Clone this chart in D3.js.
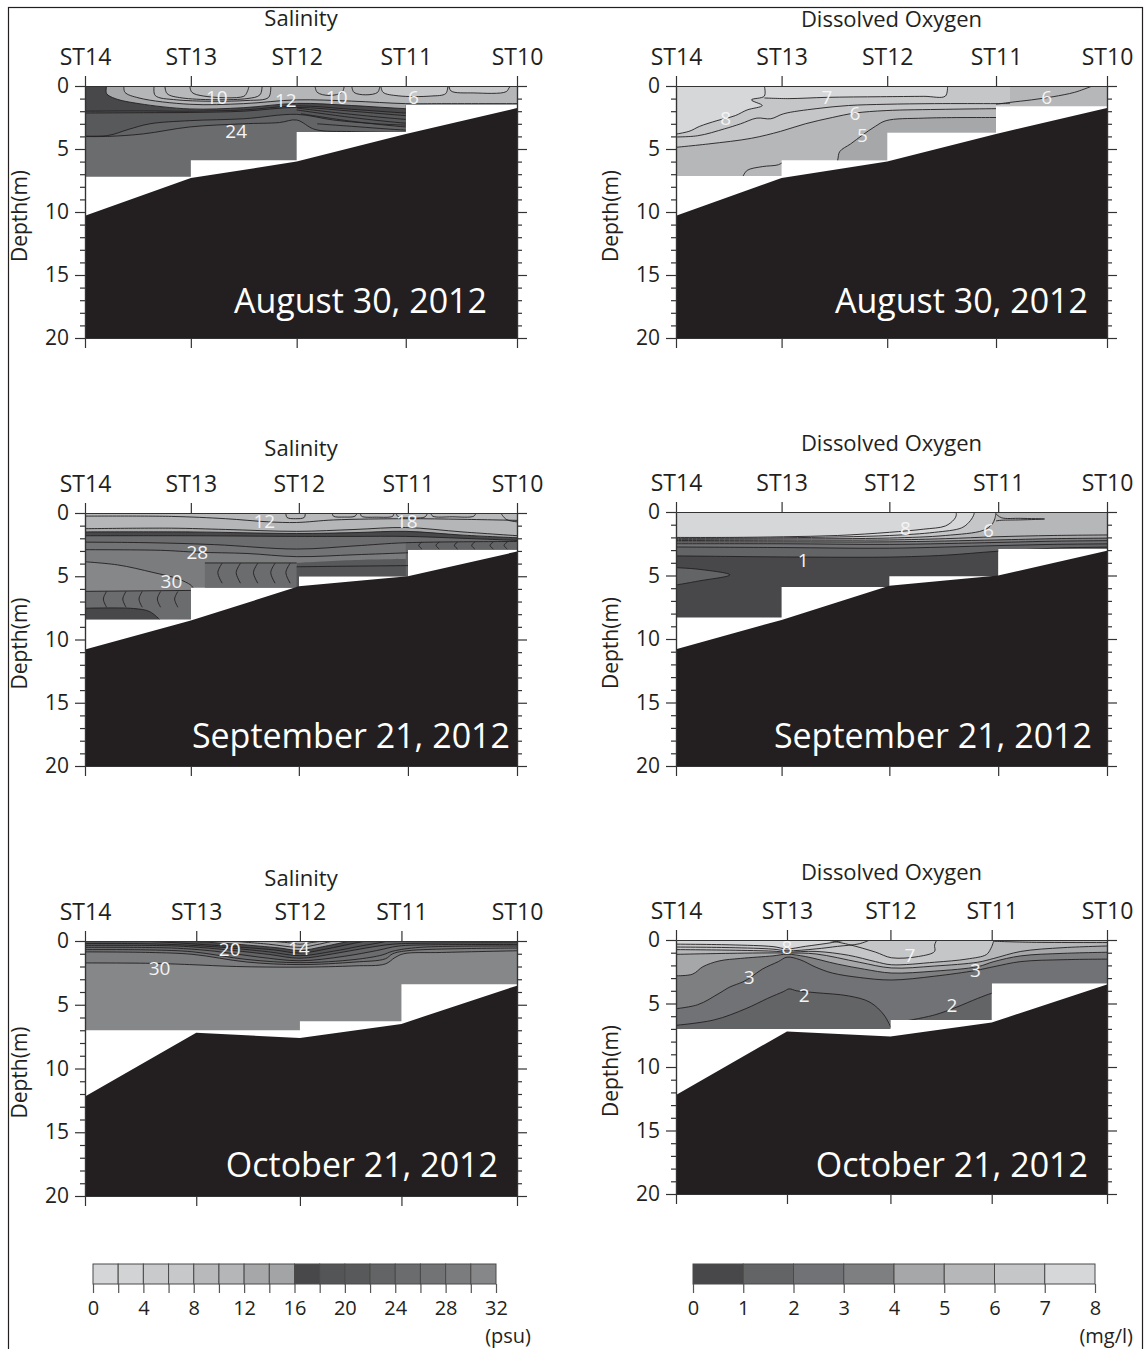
<!DOCTYPE html>
<html>
<head>
<meta charset="utf-8">
<script src="https://cdn.jsdelivr.net/npm/d3@7"></script>
<style>
  body { margin: 0; background: #fff; }
  svg { display: block; }
  text { font-family: "Open Sans", sans-serif; fill: #231f20; }
  .axis path, .axis line { stroke: #333; stroke-width: 1.2; }
  .st-axis text { font-size: 23px; }
  .depth-axis text { font-size: 21px; }
  .cb-axis text { font-size: 20px; }
  .cb-axis path, .cb-axis line { stroke: #555; stroke-width: 1.2; }
</style>
</head>
<body>
<svg id="fig" width="1146" height="1349"></svg>
<script>
// ---- stations and bathymetry ----
const stationNames = ["ST14", "ST13", "ST12", "ST11", "ST10"];
const distAug = [0, 0.98, 1.96, 2.97, 4.0];
const distSep = [0, 0.98, 1.98, 2.99, 4.0];
const distOct = [0, 1.03, 1.99, 2.93, 4.0];
const bottomAug = [10.3, 7.3, 6.0, 3.8, 1.75];
const bottomSep = [10.8, 8.5, 5.8, 5.0, 3.05];
const bottomOct = [12.2, 7.2, 7.6, 6.5, 3.5];

// deepest gridded depth between neighbouring stations
const salAugCast = [7.2, 5.9, 3.65, 1.5];
const doAugCast = [7.15, 5.9, 3.7, 1.6];
const salSepCast = [8.4, 5.9, 5.0, 2.9];
const doSepCast = [8.3, 5.9, 5.05, 2.9];
const salOctCast = [7.0, 7.0, 6.3, 3.4];
const doOctCast = [7.0, 7.0, 6.3, 3.4];

// ---- colour scales ----
const salBreaks = d3.range(2, 32, 2);
const salColors = ["#d5d6d8", "#d2d3d5", "#c9cacc", "#c7c8ca", "#b8b9bb", "#b5b6b8", "#a6a7a9", "#a3a4a6",
                   "#48484a", "#545557", "#58595b", "#636466", "#6b6c6e", "#727375", "#7b7c7e", "#868789"];
const doBreaks = d3.range(1, 8);
const doColors = ["#48484a", "#636466", "#717275", "#7e7f81", "#a6a7a9", "#b6b7b9", "#c5c6c8", "#d6d7d9"];
const salTickValues = d3.range(0, 33, 2);
const doTickValues = d3.range(0, 9);
const depthMajor = [0, 5, 10, 15, 20];
const depthMinor = d3.range(0, 21).filter(d => d % 5 !== 0);

// ---- Salinity, August 30 (isolines: [distance, depth]) ----
const salAugIso = {
  L3: [[-0.1,4.0],[0.21,4.0],[0.54,3.8],[0.97,3.25],[1.47,3.0],[1.8,2.9],[1.96,2.7],[2.13,3.45],[2.47,3.62],[3.1,3.7]],
  L2: [[-0.1,3.95],[0.21,3.93],[0.4,3.45],[0.6,3.0],[0.97,2.75],[1.47,2.6],[1.96,2.25],[2.3,2.7],[2.7,3.0],[3.1,3.15]],
  L1: [[-0.1,2.15],[0.54,2.12],[0.97,2.1],[1.47,2.0],[1.96,1.7],[2.47,2.0],[2.97,2.35],[3.1,2.4]],
  L0: [[-0.1,2.0],[0.54,1.98],[0.97,2.0],[1.47,1.9],[1.96,1.58],[2.47,1.85],[2.97,2.15],[3.1,2.2]],
  sA: [[0.2,0],[0.2,0.6],[0.28,1.0],[0.5,1.4],[0.97,1.82],[1.47,1.72],[1.96,1.38],[2.47,1.55],[2.97,1.8],[3.2,1.85],[4.1,1.85]],
  sB: [[0.36,0],[0.37,0.5],[0.5,0.95],[0.97,1.45],[1.47,1.4],[1.96,1.1],[2.47,1.2],[2.97,1.4],[3.3,1.4],[4.1,1.4]],
  m3: [[1.96,1.75],[2.47,2.25],[2.97,2.65],[3.1,2.7]],
  m4: [[1.96,1.9],[2.47,2.5],[2.97,2.95],[3.1,3.0]],
  m5: [[2.0,2.2],[2.47,2.8],[2.97,3.25],[3.1,3.3]],
  m6: [[2.15,3.0],[2.47,3.2],[2.97,3.5],[3.1,3.52]],
  u1: [[0.64,0],[0.65,0.75],[0.85,1.1],[1.5,1.15],[1.7,0.9],[1.72,0]],
  u2: [[0.74,0],[0.76,0.6],[0.9,0.95],[1.5,1.0],[1.62,0.7],[1.64,0]],
  u3: [[0.97,0],[0.99,0.5],[1.1,0.8],[1.47,0.82],[1.5,0.5],[1.52,0]],
  u4: [[2.13,0],[2.15,0.5],[2.26,0.75],[2.38,0.5],[2.4,0]],
  u5: [[2.47,0],[2.49,0.5],[2.6,0.7],[2.71,0.5],[2.73,0]],
  u6: [[2.74,0],[2.76,0.5],[2.9,0.78],[3.2,0.8],[3.34,0.6],[3.36,0]],
  u7: [[3.37,0],[3.39,0.4],[3.6,0.55],[3.9,0.45],[3.93,0.1],[3.95,0]]
};
const salAugBands = [
  {v: 25, top: "surf", bot: "floor"}, {v: 23, top: "surf", bot: "L3"}, {v: 21, top: "surf", bot: "L2"},
  {v: 19, top: "surf", bot: "L1"}, {v: 17, top: "surf", bot: "L0"}, {v: 13, top: "surf", bot: "sA"},
  {v: 11, top: "surf", bot: "sB"}, {v: 9, top: "surf", bot: "u1"}, {v: 9, top: "surf", bot: "u3"},
  {v: 7, top: "surf", bot: "u6"}, {v: 7, top: "surf", bot: "u7"}
];
const salAugLabels = [{t: "10", x: 1.22, d: 0.85}, {t: "12", x: 1.86, d: 1.15}, {t: "10", x: 2.33, d: 0.9},
                      {t: "6", x: 3.04, d: 0.85}, {t: "24", x: 1.4, d: 3.55}];

// ---- Dissolved oxygen, August 30 ----
const doAugIso = {
  c8: [[-0.1,3.95],[0.12,3.6],[0.22,3.2],[0.38,2.75],[0.55,2.35],[0.66,1.9],[0.8,1.55],[0.7,1.1],[0.82,0.8],[0.82,0]],
  c7: [[0.82,0.95],[1.05,1.0],[1.4,0.9],[1.9,0.85],[2.3,0.82],[2.5,0.8],[2.52,0]],
  c7b: [[-0.1,4.05],[0.2,3.95],[0.45,3.4],[0.6,3.0],[0.75,2.55],[0.88,2.6],[1.0,2.2],[1.3,1.8],[1.6,1.55],[1.95,1.45],[2.4,1.4],[2.97,1.4],[3.1,1.4]],
  c6: [[-0.1,4.95],[0.3,4.6],[0.7,4.15],[0.97,3.6],[1.2,3.0],[1.45,2.5],[1.66,2.15],[1.95,1.95],[2.5,1.85],[2.97,1.8],[3.1,1.8]],
  c5: [[1.45,7.2],[1.5,5.9],[1.52,5.2],[1.62,4.6],[1.73,3.9],[1.85,3.2],[1.95,2.75],[2.3,2.55],[2.97,2.5],[3.1,2.5]],
  c5b: [[0.62,7.2],[0.66,6.7],[0.8,6.4],[0.95,6.25],[1.0,6.0]],
  c6r: [[2.97,1.45],[3.1,1.3],[3.3,1.1],[3.5,0.85],[3.7,0.5],[3.85,0.05],[3.87,0]]
};
const doAugBands = [
  {v: 5.5, top: "surf", bot: "floor"}, {v: 4.5, top: "c5", bot: "floor"}, {v: 6.5, top: "surf", bot: "c6"},
  {v: 7.5, top: "surf", bot: "c8"}, {v: 7.5, top: "surf", bot: "c7"}
];
const doAugLabels = [{t: "8", x: 0.46, d: 2.5}, {t: "7", x: 1.4, d: 0.85}, {t: "6", x: 1.66, d: 2.15},
                     {t: "5", x: 1.73, d: 3.9}, {t: "6", x: 3.44, d: 0.9}];

// ---- Salinity, September 21 ----
const salSepIso = {
  t1: [[-0.1,0.25],[0.8,0.27],[1.3,0.45],[1.7,0.7],[1.96,0.75],[2.3,0.55],[2.97,0.45],[3.5,0.5],[4.1,0.6]],
  t2: [[-0.1,1.25],[0.8,1.2],[1.3,1.3],[1.96,1.45],[2.5,1.3],[2.97,1.15],[3.5,1.5],[4.1,1.85]],
  d1: [[-0.1,1.5],[1.0,1.5],[1.96,1.62],[2.5,1.55],[2.97,1.45],[3.5,1.75],[4.1,2.0]],
  d2: [[-0.1,1.8],[1.0,1.8],[1.96,1.85],[2.5,1.85],[2.97,1.85],[3.5,2.0],[4.1,2.2]],
  r27: [[-0.1,2.3],[0.6,2.35],[1.2,2.5],[1.96,2.85],[2.5,2.6],[2.97,2.35],[4.1,2.25]],
  r28: [[-0.1,2.9],[0.7,2.95],[1.04,3.1],[1.5,3.2],[1.96,3.45],[2.5,3.3],[2.97,3.15],[3.1,3.1]],
  r30: [[-0.1,3.8],[0.3,4.1],[0.63,4.7],[0.86,5.2],[0.98,5.7],[1.0,5.9]],
  bx1: [[1.11,3.95],[1.96,3.95]],
  bx1r: [[1.96,3.95],[2.5,3.72],[3.1,3.62]],
  bx2: [[1.96,4.25],[2.5,4.2],[3.1,4.15]],
  bx3: [[-0.1,6.2],[1.0,6.12]],
  bx4: [[-0.1,7.55],[0.45,7.55],[0.6,7.8],[0.7,8.5]],
  bx5: [[2.97,2.3],[3.5,2.3],[4.1,2.3]],
  su1: [[1.86,0],[1.87,0.35],[1.95,0.45],[2.03,0.35],[2.04,0]],
  su2: [[2.29,0],[2.3,0.25],[2.4,0.32],[2.5,0.25],[2.52,0]],
  su3: [[2.55,0],[2.56,0.25],[2.7,0.33],[2.85,0.25],[2.86,0]],
  su4: [[2.88,0],[2.9,0.3],[3.0,0.38],[3.15,0.3],[3.17,0]],
  su5: [[3.2,0],[3.22,0.25],[3.4,0.3],[3.6,0.25],[3.62,0]],
  su6: [[3.85,0],[3.9,0.5],[4.0,0.7],[4.1,0.75]]
};
// gridding seams inside the deep boxes
const salSepSeamsMid = [1.27, 1.44, 1.6, 1.76, 1.9];
const salSepSeamsLeft = [0.2, 0.38, 0.53, 0.7, 0.86];
const salSepSeamsRight = [3.12, 3.28, 3.45, 3.61, 3.78, 3.91];
salSepSeamsMid.forEach((x, i) => { salSepIso["sm" + i] = [[x,3.97],[x-0.04,4.7],[x,5.55]]; });
salSepSeamsLeft.forEach((x, i) => { salSepIso["sl" + i] = [[x,6.2],[x-0.03,6.8],[x,7.45]]; });
salSepSeamsRight.forEach((x, i) => { salSepIso["sr" + i] = [[x,2.3],[x-0.03,2.55],[x,2.85]]; });
const salSepBands = [
  {v: 29, top: "surf", bot: "floor"}, {v: 31, top: "r30", bot: "floor"}, {v: 27, top: "surf", bot: "r28"},
  {v: 25, top: "surf", bot: "r27"}, {v: 17, top: "surf", bot: "d2"}, {v: 13, top: "surf", bot: "d1"},
  {v: 11, top: "surf", bot: "t2"}, {v: 9, top: "surf", bot: "t1"},
  {v: 25, top: "bx1", bot: "floor"}, {v: 21, top: "bx1r", bot: "floor"}, {v: 19, top: "bx2", bot: "floor"},
  {v: 25, top: "bx3", bot: "floor"}, {v: 17, top: "bx4", bot: "floor"}, {v: 23, top: "bx5", bot: "floor"}
];
const salSepLabels = [{t: "12", x: 1.66, d: 0.6}, {t: "18", x: 2.98, d: 0.6}, {t: "28", x: 1.04, d: 3.1},
                      {t: "30", x: 0.8, d: 5.35}];

// ---- Dissolved oxygen, September 21 ----
const doSepIso = {
  o8: [[-0.1,2.0],[0.5,2.0],[1.0,1.95],[1.5,1.85],[1.98,1.6],[2.3,1.35],[2.5,1.1],[2.58,0.6],[2.6,0.3],[2.6,0]],
  o7: [[-0.1,2.08],[1.0,2.03],[1.98,1.85],[2.4,1.6],[2.65,1.25],[2.72,0.8],[2.76,0.3],[2.77,0]],
  o6: [[-0.1,2.16],[1.0,2.12],[1.98,2.05],[2.5,1.85],[2.85,1.45],[2.93,1.0],[2.96,0.5],[2.97,0]],
  o5: [[-0.1,2.25],[1.0,2.22],[1.98,2.2],[2.5,2.1],[2.97,1.95],[3.5,1.85],[4.1,1.8]],
  o4: [[-0.1,2.35],[1.0,2.35],[1.98,2.35],[2.97,2.2],[3.5,2.1],[4.1,2.05]],
  o3: [[-0.1,2.5],[1.0,2.5],[1.98,2.55],[2.97,2.4],[3.5,2.3],[4.1,2.25]],
  o2: [[-0.1,2.75],[1.0,2.8],[1.98,2.85],[2.97,2.65],[3.5,2.55],[4.1,2.5]],
  o1: [[-0.1,3.45],[0.5,3.5],[1.18,3.55],[1.98,3.55],[2.5,3.4],[2.97,3.1],[3.5,2.85],[4.1,2.75]],
  ot: [[-0.1,4.35],[0.2,4.5],[0.5,4.95],[0.2,5.45],[-0.1,5.9]],
  otg: [[2.97,0.15],[3.02,0.45],[3.2,0.5],[3.42,0.55],[3.2,0.62],[3.02,0.65],[2.97,0.7]]
};
const doSepBands = [
  {v: 0.5, top: "surf", bot: "floor"}, {v: 1.5, top: "surf", bot: "o1"}, {v: 2.5, top: "surf", bot: "o2"},
  {v: 3.5, top: "surf", bot: "o3"}, {v: 4.5, top: "surf", bot: "o4"}, {v: 5.5, top: "surf", bot: "o5"},
  {v: 6.5, top: "surf", bot: "o6"}, {v: 7.5, top: "surf", bot: "o7"}, {v: 1.5, closed: "ot"}
];
const doSepLabels = [{t: "8", x: 2.13, d: 1.25}, {t: "6", x: 2.9, d: 1.45}, {t: "1", x: 1.18, d: 3.8}];

// ---- Salinity, October 21 ----
const salOctIso = {
  e30: [[-0.1,1.72],[0.6,1.75],[0.97,1.85],[1.4,2.0],[1.99,2.05],[2.5,1.95],[2.78,1.8],[2.87,1.3],[2.95,1.0],[3.3,0.9],[4.1,0.75]],
  e29: [[-0.1,0.85],[0.6,0.9],[1.0,1.05],[1.5,1.65],[1.99,1.85],[2.5,1.65],[2.78,1.4],[2.85,1.0],[3.0,0.75],[4.1,0.55]],
  e28: [[-0.1,0.68],[0.6,0.7],[1.0,0.85],[1.5,1.45],[1.99,1.7],[2.5,1.45],[2.75,1.1],[2.85,0.8],[3.1,0.5],[4.1,0.4]],
  e26: [[-0.1,0.5],[0.8,0.55],[1.2,0.8],[1.6,1.25],[1.99,1.55],[2.4,1.2],[2.7,0.75],[2.9,0.4],[3.2,0.3],[4.1,0.28]],
  e24: [[-0.1,0.35],[0.8,0.38],[1.2,0.6],[1.7,1.05],[1.99,1.35],[2.3,1.0],[2.6,0.55],[2.85,0.25],[3.2,0.17],[4.1,0.15]],
  e22: [[-0.1,0.2],[0.6,0.22],[1.2,0.45],[1.7,0.85],[1.99,1.15],[2.3,0.8],[2.55,0.4],[2.75,0.1],[2.8,0]],
  e20: [[0.5,0],[0.8,0.12],[1.3,0.4],[1.75,0.7],[1.99,0.95],[2.25,0.6],[2.45,0.25],[2.6,0]],
  e18: [[0.95,0],[1.4,0.25],[1.8,0.55],[1.99,0.75],[2.2,0.45],[2.4,0.1],[2.45,0]],
  e16: [[1.35,0],[1.7,0.25],[1.99,0.5],[2.15,0.28],[2.3,0]],
  e14: [[1.7,0],[1.9,0.15],[1.99,0.25],[2.1,0.12],[2.2,0]]
};
const salOctBands = [
  {v: 31, top: "surf", bot: "floor"}, {v: 29, top: "surf", bot: "e30"}, {v: 27, top: "surf", bot: "e29"},
  {v: 25, top: "surf", bot: "e28"}, {v: 23, top: "surf", bot: "e26"}, {v: 21, top: "surf", bot: "e24"},
  {v: 19, top: "surf", bot: "e22"}, {v: 17, top: "surf", bot: "e20"}, {v: 15, top: "surf", bot: "e18"},
  {v: 13, top: "surf", bot: "e16"}, {v: 11, top: "surf", bot: "e14"}
];
const salOctLabels = [{t: "20", x: 1.34, d: 0.63}, {t: "14", x: 1.98, d: 0.55}, {t: "30", x: 0.69, d: 2.1}];

// ---- Dissolved oxygen, October 21 ----
const doOctIso = {
  f8: [[-0.1,0.32],[0.5,0.38],[0.9,0.52],[1.03,0.7],[1.2,0.5],[1.45,0.2],[1.57,0]],
  f8b: [[-0.1,0.55],[0.5,0.6],[0.9,0.72],[1.03,0.85],[1.3,0.7],[1.5,0.5],[1.7,0.3],[1.8,0]],
  f7: [[1.4,0],[1.6,0.35],[1.85,0.95],[2.0,1.4],[2.25,1.3],[2.4,0.9],[2.4,0.4],[2.42,0]],
  f6: [[-0.1,0.75],[0.5,0.8],[0.9,0.88],[1.03,0.95],[1.3,0.9],[1.6,1.2],[1.85,1.7],[2.0,1.95],[2.4,1.75],[2.7,1.5],[2.88,1.15],[2.92,0.7],[2.94,0.3],[2.95,0]],
  f5: [[-0.1,1.15],[0.5,1.05],[1.03,1.02],[1.3,1.1],[1.7,1.75],[2.0,2.2],[2.4,2.05],[2.8,1.75],[2.95,1.45],[3.2,0.9],[3.6,0.6],[4.1,0.45]],
  f4: [[-0.1,2.8],[0.15,2.7],[0.25,2.1],[0.4,1.65],[0.6,1.45],[0.9,1.25],[1.03,1.12],[1.2,1.3],[1.5,1.9],[1.75,2.3],[2.0,2.6],[2.4,2.45],[2.8,2.1],[2.95,1.7],[3.2,1.25],[3.6,1.05],[4.1,0.95]],
  f3: [[-0.1,5.5],[0.2,5.1],[0.4,4.2],[0.5,3.7],[0.62,3.3],[0.7,2.9],[0.8,2.3],[0.95,1.7],[1.03,1.35],[1.15,1.55],[1.3,2.15],[1.45,2.6],[1.7,2.95],[2.0,3.15],[2.4,2.85],[2.78,2.4],[2.95,2.1],[3.2,1.7],[3.6,1.55],[4.1,1.5]],
  f2: [[-0.1,6.8],[0.35,6.3],[0.65,5.4],[0.85,4.6],[1.0,4.05],[1.05,3.85],[1.12,4.0],[1.3,4.15],[1.6,4.4],[1.8,4.9],[1.93,5.9],[2.0,7.0]],
  f2r: [[2.12,6.4],[2.4,5.9],[2.6,5.3],[2.8,4.6],[2.93,4.2],[3.0,4.1]],
  fs: [[2.95,0.1],[3.3,0.18],[4.1,0.2]]
};
doOctIso.f2all = doOctIso.f2.concat([[2.05,7.5],[2.1,6.6]], doOctIso.f2r, [[4.1,4.1]]);
const doOctBands = [
  {v: 1.5, top: "surf", bot: "floor"}, {v: 2.5, top: "surf", bot: "f2all"}, {v: 3.5, top: "surf", bot: "f3"},
  {v: 4.5, top: "surf", bot: "f4"}, {v: 5.5, top: "surf", bot: "f5"}, {v: 6.5, top: "surf", bot: "f6"},
  {v: 7.5, top: "surf", bot: "f8"}
];
const doOctLabels = [{t: "8", x: 1.03, d: 0.57}, {t: "7", x: 2.17, d: 1.22}, {t: "3", x: 0.68, d: 2.95},
                     {t: "3", x: 2.78, d: 2.4}, {t: "2", x: 1.19, d: 4.3}, {t: "2", x: 2.56, d: 5.1}];

// ---- figure assembly ----
const svg = d3.select("#fig");
const salColor = d3.scaleThreshold().domain(salBreaks).range(salColors);
const doColor = d3.scaleThreshold().domain(doBreaks).range(doColors);
const curve = d3.curveCatmullRom.alpha(0.5);

const panels = [
  {kind: "sal", title: "Salinity", date: "August 30, 2012", dist: distAug, bottom: bottomAug, cast: salAugCast,
   iso: salAugIso, bands: salAugBands, labels: salAugLabels, hidden: []},
  {kind: "do", title: "Dissolved Oxygen", date: "August 30, 2012", dist: distAug, bottom: bottomAug, cast: doAugCast,
   iso: doAugIso, bands: doAugBands, labels: doAugLabels, hidden: []},
  {kind: "sal", title: "Salinity", date: "September 21, 2012", dist: distSep, bottom: bottomSep, cast: salSepCast,
   iso: salSepIso, bands: salSepBands, labels: salSepLabels, hidden: ["bx1r", "bx5"]},
  {kind: "do", title: "Dissolved Oxygen", date: "September 21, 2012", dist: distSep, bottom: bottomSep, cast: doSepCast,
   iso: doSepIso, bands: doSepBands, labels: doSepLabels, hidden: []},
  {kind: "sal", title: "Salinity", date: "October 21, 2012", dist: distOct, bottom: bottomOct, cast: salOctCast,
   iso: salOctIso, bands: salOctBands, labels: salOctLabels, hidden: []},
  {kind: "do", title: "Dissolved Oxygen", date: "October 21, 2012", dist: distOct, bottom: bottomOct, cast: doOctCast,
   iso: doOctIso, bands: doOctBands, labels: doOctLabels, hidden: ["f2all"]}
];

// pixel frames of the six sections
const frames = [
  {x0: 85, x1: 517, y0: 86, y1: 338, titleUp: 60, dateRight: 30, dateUp: 25},
  {x0: 676, x1: 1107, y0: 86, y1: 338, titleUp: 59, dateRight: 19, dateUp: 25},
  {x0: 85, x1: 517, y0: 513, y1: 766, titleUp: 57, dateRight: 7, dateUp: 18},
  {x0: 676, x1: 1107, y0: 512, y1: 766, titleUp: 61, dateRight: 15, dateUp: 18},
  {x0: 85, x1: 517, y0: 941, y1: 1196, titleUp: 55, dateRight: 19, dateUp: 19},
  {x0: 676, x1: 1107, y0: 940, y1: 1194, titleUp: 60, dateRight: 19, dateUp: 17}
];

panels.forEach((p, idx) => {
  const F = frames[idx];
  const x = d3.scaleLinear().domain([0, 4]).range([F.x0, F.x1]);
  const y = d3.scaleLinear().domain([0, 20]).range([F.y0, F.y1]);
  const color = p.kind === "sal" ? salColor : doColor;
  const line = d3.line().x(d => x(d[0])).y(d => y(d[1])).curve(curve);
  const straight = d3.line().x(d => x(d[0])).y(d => y(d[1]));
  const g = svg.append("g");

  // stepped data region (gridded only where both neighbouring casts reach)
  const region = [[p.dist[0], 0], [p.dist[4], 0]];
  for (let i = 3; i >= 0; i--) region.push([p.dist[i + 1], p.cast[i]], [p.dist[i], p.cast[i]]);
  const clipId = "region" + idx;
  svg.append("clipPath").attr("id", clipId).append("path").attr("d", straight(region) + "Z");
  const body = g.append("g").attr("clip-path", `url(#${clipId})`);

  // filled bands between isolines
  p.bands.forEach(b => {
    let path;
    if (b.closed) {
      path = line(p.iso[b.closed]) + "Z";
    } else {
      let top = b.top === "surf" ? null : p.iso[b.top];
      let bot = b.bot === "floor" ? null : p.iso[b.bot];
      const ref = top || bot;
      const ext = ref ? d3.extent(ref, q => q[0]) : [-0.1, 4.1];
      if (!top) top = [[ext[0], 0], [ext[1], 0]];
      if (!bot) bot = [[ext[0], 20], [ext[1], 20]];
      path = line(top) + line(bot.slice().reverse()).replace(/^M/, "L") + "Z";
    }
    body.append("path").attr("d", path).attr("fill", color(b.v));
  });

  // isolines
  Object.keys(p.iso).filter(k => !p.hidden.includes(k)).forEach(k => {
    body.append("path").attr("d", line(p.iso[k]))
      .attr("fill", "none").attr("stroke", "#231f20").attr("stroke-width", 0.9);
  });

  // sea bed
  const bed = p.dist.map((d, i) => [d, p.bottom[i]]);
  bed.push([p.dist[4], 20], [p.dist[0], 20]);
  g.append("path").attr("d", straight(bed) + "Z").attr("fill", "#231f20");

  // contour labels
  g.selectAll(null).data(p.labels).join("text")
    .attr("x", d => x(d.x)).attr("y", d => y(d.d))
    .attr("text-anchor", "middle").attr("dominant-baseline", "central")
    .style("font-size", "19px").style("fill", "#f4f4f4")
    .text(d => d.t);

  // axes
  const ax = g.append("g").attr("class", "axis");
  ax.append("g").attr("class", "st-axis").attr("transform", `translate(0,${F.y0})`)
    .call(d3.axisTop(x).tickValues(p.dist).tickFormat((d, i) => stationNames[i]).tickSize(10).tickPadding(11).tickSizeOuter(0));
  ax.append("g").attr("transform", `translate(0,${F.y1})`)
    .call(d3.axisBottom(x).tickValues(p.dist).tickFormat("").tickSize(10).tickSizeOuter(0));
  ax.append("g").attr("class", "depth-axis").attr("transform", `translate(${F.x0},0)`)
    .call(d3.axisLeft(y).tickValues(depthMajor).tickSize(10).tickPadding(6).tickSizeOuter(0));
  ax.append("g").attr("transform", `translate(${F.x0},0)`)
    .call(d3.axisLeft(y).tickValues(depthMinor).tickFormat("").tickSize(5).tickSizeOuter(0));
  ax.append("g").attr("transform", `translate(${F.x1},0)`)
    .call(d3.axisRight(y).tickValues(depthMajor).tickFormat("").tickSize(10).tickSizeOuter(0));
  ax.append("g").attr("transform", `translate(${F.x1},0)`)
    .call(d3.axisRight(y).tickValues(depthMinor).tickFormat("").tickSize(5).tickSizeOuter(0));

  // titles
  g.append("text").attr("x", (F.x0 + F.x1) / 2).attr("y", F.y0 - F.titleUp)
    .attr("text-anchor", "middle").style("font-size", "22px").text(p.title);
  g.append("text")
    .attr("transform", `translate(${F.x0 - 58},${(F.y0 + F.y1) / 2 + 4}) rotate(-90)`)
    .attr("text-anchor", "middle").style("font-size", "21px").text("Depth(m)");
  g.append("text").attr("x", F.x1 - F.dateRight).attr("y", F.y1 - F.dateUp)
    .attr("text-anchor", "end").style("font-size", "34px").style("fill", "#ffffff").text(p.date);
});

// ---- colour keys ----
function colourKey(x0, x1, domainMax, step, colorFn, ticks, labelEvery, unit, unitX) {
  const s = d3.scaleLinear().domain([0, domainMax]).range([x0, x1]);
  const key = svg.append("g");
  key.selectAll("rect").data(d3.range(0, domainMax, step)).join("rect")
    .attr("x", d => s(d)).attr("y", 1264).attr("width", d => s(d + step) - s(d)).attr("height", 20)
    .attr("fill", d => colorFn(d + step / 2)).attr("stroke", "#4a4a4a").attr("stroke-width", 1);
  key.append("g").attr("class", "cb-axis").attr("transform", "translate(0,1284)")
    .call(d3.axisBottom(s).tickValues(ticks).tickSize(9).tickPadding(8)
      .tickFormat(d => d % labelEvery === 0 ? d : "").tickSizeOuter(0))
    .call(a => a.select(".domain").remove());
  key.append("text").attr("x", unitX).attr("y", 1343).attr("text-anchor", "end")
    .style("font-size", "20px").text(unit);
}
colourKey(93, 496, 32, 2, salColor, salTickValues, 4, "(psu)", 531);
colourKey(693, 1095, 8, 1, doColor, doTickValues, 1, "(mg/l)", 1133);

// outer border
svg.append("rect").attr("x", 8.5).attr("y", 7.5).attr("width", 1134).attr("height", 1400)
  .attr("fill", "none").attr("stroke", "#231f20").attr("stroke-width", 1.2);
</script>
</body>
</html>
